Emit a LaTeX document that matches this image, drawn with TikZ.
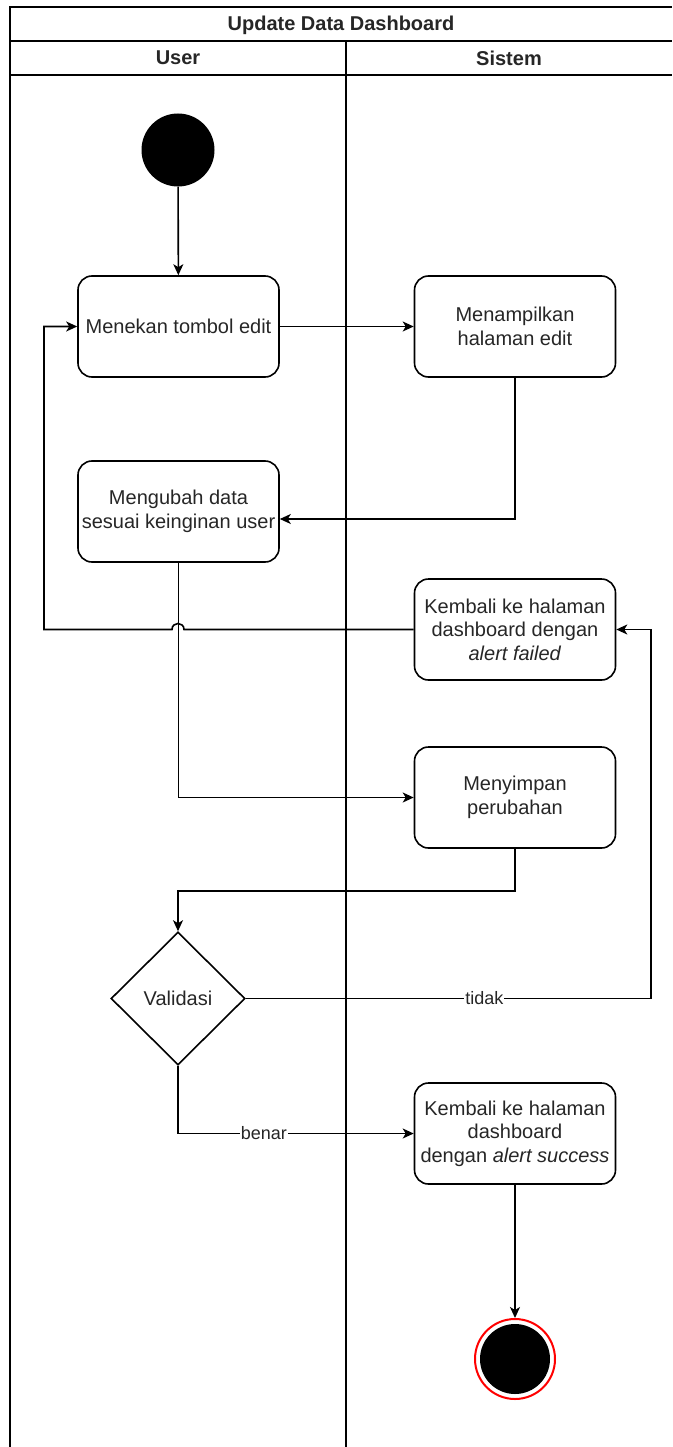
\documentclass[tikz,border=0pt]{standalone}
\usepackage{fontspec}
\setmainfont{Liberation Sans}
\usetikzlibrary{arrows.meta,shapes.geometric,calc}
\begin{document}
\begin{tikzpicture}[x=1pt,y=-1pt,
  font=\fontsize{20}{23.5}\selectfont,
  every node/.style={text=black!85},
  line/.style={line width=1.6pt},
  flow/.style={line, -{Stealth[length=11pt,width=10pt,inset=3pt]}},
  act/.style={draw=black, line width=1.6pt, rounded corners=14pt, minimum width=201pt,
    minimum height=101pt, align=center, inner sep=2pt},
  decision/.style={draw=black, line width=1.6pt, shape=diamond, minimum width=134pt,
    minimum height=133pt, inner sep=0pt},
  edgelbl/.style={fill=white, inner sep=1pt, font=\fontsize{18}{20}\selectfont},
  headlbl/.style={font=\fontsize{20}{23}\selectfont\bfseries},
  startnode/.style={circle, fill=black, minimum size=73pt, inner sep=0pt}
]
\useasboundingbox (0,0) rectangle (672,1447);

% swimlane frame, open at the right and at the bottom
\draw[line width=2pt] (10,1447) -- (10,7.5) -- (672,7.5);
\draw[line width=2pt] (10,41.5) -- (672,41.5);
\draw[line width=2pt] (10,75) -- (672,75);
\draw[line width=1.6pt] (346,41.5) -- (346,1447);

\node[headlbl] (title) at (341,25) {Update Data Dashboard};
\node[headlbl] (laneuser) at (178,58) {User};
\node[headlbl] (lanesys) at (509,58) {Sistem};

% activities
\node[startnode] (start) at (178,150) {};
\node[act] (edit) at (178.5,326.5) {Menekan tombol edit};
\node[act] (show) at (515,326.5) {Menampilkan\\halaman edit};
\node[act] (change) at (178.5,511.5) {Mengubah data\\sesuai keinginan user};
\node[act] (failed) at (515,629.5) {Kembali ke halaman\\dashboard dengan\\\textit{alert failed}};
\node[act] (save) at (515,797.5) {Menyimpan\\perubahan};
\node[decision] (valid) at (178,998.5) {Validasi};
\node[act] (success) at (515,1133.5) {Kembali ke halaman\\dashboard\\dengan \textit{alert success}};
\node[circle, draw=red, line width=2pt, minimum size=80pt, inner sep=0pt] (endring) at (515,1359) {};
\node[circle, fill=black, minimum size=70pt, inner sep=0pt] (enddot) at (endring) {};

% connectors
\draw[flow] (start) -- (edit);
\draw[flow] (edit) -- (show);
\draw[flow] (show.south) |- ($(change.east)+(0,7.5)$);
\draw[flow] (failed.west) -- (184,629.5) .. controls (184,621.5) and (172,621.5) .. (172,629.5)
  -- (44,629.5) |- (edit.west);
\draw[flow] (change.south) |- (save.west);
\draw[flow] (save.south) -- ++(0,42) -| (valid.north);
\draw[flow] (valid.east) -- node[edgelbl, pos=0.589] {tidak} (651,998.5) |- (failed.east);
\draw[flow] (valid.south) |- node[edgelbl, pos=0.682] {benar} (success.west);
\draw[flow] (success.south) -- (endring.north);
\end{tikzpicture}
\end{document}
